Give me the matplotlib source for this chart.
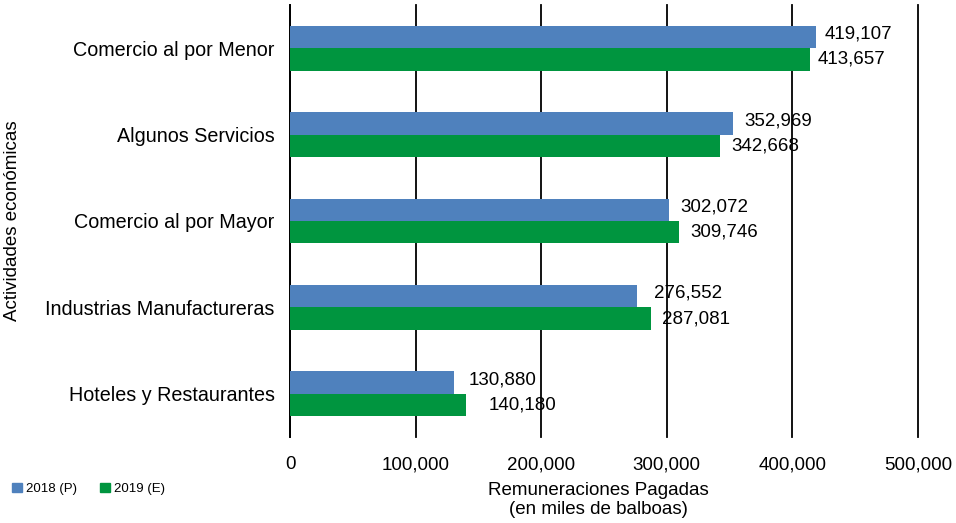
import matplotlib
matplotlib.use("Agg")
import matplotlib.pyplot as plt
import numpy as np
from matplotlib.patches import Patch

plt.rcParams['font.family'] = ['Liberation Sans', 'DejaVu Sans']

categories = ["Comercio al por Menor", "Algunos Servicios", "Comercio al por Mayor",
              "Industrias Manufactureras", "Hoteles y Restaurantes"]
v2018 = [419107, 352969, 302072, 276552, 130880]
v2019 = [413657, 342668, 309746, 287081, 140180]
series_names = ["2018 (P)", "2019 (E)"]
xticks = [0, 100000, 200000, 300000, 400000, 500000]

c18 = "#4F81BD"
c19 = "#00953F"
FS = 13.5

fig = plt.figure(figsize=(9.56, 5.23), dpi=100)
ax = fig.add_axes([290/956, 1-437/523, (918-290)/956, (437-5)/523])

y = np.arange(len(categories))
h = 0.26
ax.barh(y - h/2, v2018, height=h, color=c18, zorder=3)
ax.barh(y + h/2, v2019, height=h, color=c19, zorder=3)
ax.set_ylim(len(categories) - 0.5, -0.5)
ax.set_xlim(0, 500000)
ax.set_yticks(y)
ax.set_yticklabels(categories, fontsize=14.2)
ax.set_xticks(xticks)
ax.set_xticklabels([f"{t:,}" for t in xticks], fontsize=FS)
ax.tick_params(axis='y', length=0, pad=11)
ax.tick_params(axis='x', length=0, pad=14)
ax.grid(axis='x', color='black', linewidth=1.3, zorder=0)
for gl in ax.get_xgridlines():
    gl.set_clip_on(False)
for s in ['top', 'right', 'bottom']:
    ax.spines[s].set_visible(False)
ax.spines['left'].set_color('black')
ax.spines['left'].set_linewidth(1.3)

# label gap in points (manual placement as in the original)
gap18 = [6, 8, 8, 12, 10]
gap19 = [6, 8, 8, 8, 16]
for i in range(len(categories)):
    ax.annotate(f"{v2018[i]:,}", (v2018[i], y[i] - h/2), xytext=(gap18[i], 2),
                textcoords='offset points', va='center', ha='left', fontsize=FS)
    ax.annotate(f"{v2019[i]:,}", (v2019[i], y[i] + h/2), xytext=(gap19[i], 0),
                textcoords='offset points', va='center', ha='left', fontsize=FS)

ax.set_ylabel("Actividades económicas", fontsize=FS)
ax.yaxis.set_label_coords((21-290)/628, 0.5)
fig.text(598/956, 1-500/523, "Remuneraciones Pagadas\n(en miles de balboas)",
         ha='center', va='center', fontsize=FS, linespacing=1.2)

handles = [Patch(color=c18, label=series_names[0]), Patch(color=c19, label=series_names[1])]
fig.legend(handles=handles, loc='center left', bbox_to_anchor=(0.0, 1-489/523), ncol=2,
           frameon=False, fontsize=9.5, handlelength=0.75, handleheight=0.75,
           columnspacing=1.8, handletextpad=0.3)

fig.savefig("out.png", dpi=100)
